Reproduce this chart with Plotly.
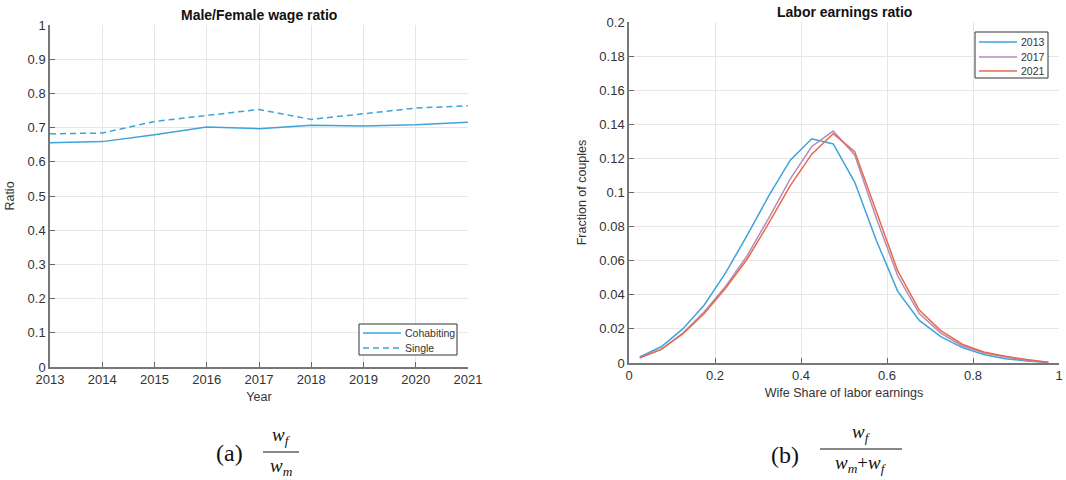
import plotly.graph_objects as go

# Panel (a): male/female wage ratio by year
years = [2013, 2014, 2015, 2016, 2017, 2018, 2019, 2020, 2021]
cohabiting = [0.656, 0.659, 0.679, 0.702, 0.697, 0.707, 0.705, 0.708, 0.716]
single = [0.682, 0.684, 0.718, 0.735, 0.753, 0.724, 0.740, 0.757, 0.764]

# Panel (b): distribution of wife's share of labor earnings
share_bins = [0.025, 0.075, 0.125, 0.175, 0.225, 0.275, 0.325, 0.375, 0.425, 0.475,
              0.525, 0.575, 0.625, 0.675, 0.725, 0.775, 0.825, 0.875, 0.925, 0.975]
frac_2013 = [0.0035, 0.0095, 0.0200, 0.0340, 0.0530, 0.0750, 0.0980, 0.1190, 0.1315, 0.1285,
             0.1060, 0.0720, 0.0420, 0.0250, 0.0155, 0.0090, 0.0050, 0.0025, 0.0012, 0.0003]
frac_2017 = [0.0030, 0.0080, 0.0175, 0.0300, 0.0450, 0.0630, 0.0850, 0.1080, 0.1270, 0.1360,
             0.1220, 0.0850, 0.0510, 0.0290, 0.0175, 0.0100, 0.0060, 0.0035, 0.0015, 0.0005]
frac_2021 = [0.0030, 0.0080, 0.0170, 0.0290, 0.0440, 0.0610, 0.0820, 0.1040, 0.1225, 0.1345,
             0.1240, 0.0890, 0.0540, 0.0310, 0.0190, 0.0110, 0.0065, 0.0040, 0.0020, 0.0005]

BLUE = "#3ea3da"
PURPLE = "#b48cb8"
RED = "#e8694a"
TXT = "#333333"
GRID = "#e6e6e6"
FONT = "Liberation Sans, Arial, sans-serif"
SERIF = "Liberation Serif, DejaVu Serif, serif"
DASH = "6px,4px"
W, H = 1066, 480

fig = go.Figure()

left_series = [("Cohabiting", cohabiting, "solid"), ("Single", single, DASH)]
right_series = [("2013", frac_2013, BLUE), ("2017", frac_2017, PURPLE), ("2021", frac_2021, RED)]

for name, vals, dash in left_series:
    fig.add_trace(go.Scatter(x=years, y=vals, mode="lines", name=name,
                             line=dict(color=BLUE, width=1.5, dash=dash),
                             xaxis="x", yaxis="y", showlegend=False))

for name, vals, col in right_series:
    fig.add_trace(go.Scatter(x=share_bins, y=vals, mode="lines", name=name,
                             line=dict(color=col, width=1.5),
                             xaxis="x2", yaxis="y2", showlegend=False))

axis_common = dict(showgrid=True, gridcolor=GRID, gridwidth=1, zeroline=False,
                   showline=True, linecolor="#777777", linewidth=1.5,
                   ticks="inside", ticklen=5, tickcolor="#666666",
                   tickfont=dict(family=FONT, size=13, color=TXT),
                   title_font=dict(family=FONT, size=12.5, color=TXT), mirror=False,
                   automargin=False)

fig.update_layout(
    width=W, height=H,
    margin=dict(l=0, r=0, t=0, b=0, autoexpand=False),
    paper_bgcolor="white", plot_bgcolor="white",
    showlegend=False,
    xaxis=dict(domain=[50/W, 468/W], range=[2013, 2021], tickmode="array",
               tickvals=years, title=dict(text="Year", standoff=6), anchor="y",
               **axis_common),
    yaxis=dict(domain=[1-367/H, 1-25/H], range=[0, 1], dtick=0.1,
               title=dict(text="Ratio", standoff=10), anchor="x", **axis_common),
    xaxis2=dict(domain=[629/W, 1059/W], range=[0, 1], dtick=0.2,
                title=dict(text="Wife Share of labor earnings", standoff=6), anchor="y2",
                **axis_common),
    yaxis2=dict(domain=[1-363/H, 1-22/H], range=[0, 0.2], dtick=0.02,
                title=dict(text="Fraction of couples", standoff=10), anchor="x2",
                **axis_common),
)


def px(x):
    return x / W


def py(y):
    return 1 - y / H


def note(x, y, text, size, family=FONT, color=TXT, xanchor="center", yanchor="middle"):
    fig.add_annotation(x=px(x), y=py(y), xref="paper", yref="paper", text=text,
                       showarrow=False, xanchor=xanchor, yanchor=yanchor,
                       font=dict(family=family, size=size, color=color))


def hline(x0, x1, y, color, width=1, dash="solid"):
    fig.add_shape(type="line", xref="paper", yref="paper", x0=px(x0), x1=px(x1),
                  y0=py(y), y1=py(y), line=dict(color=color, width=width, dash=dash))


def legend_box(x0, y0, x1, y1, entries, line_x0, line_x1, row_y):
    fig.add_shape(type="rect", xref="paper", yref="paper", x0=px(x0), x1=px(x1),
                  y0=py(y1), y1=py(y0), fillcolor="white",
                  line=dict(color="#333333", width=1), layer="above")
    for (name, color, dash), yy in zip(entries, row_y):
        hline(line_x0, line_x1, yy, color, 1.5, dash)
        note(line_x1 + 2, yy, name, 10.5, xanchor="left")


# Panel titles
note((50 + 468) / 2, 15, "<b>Male/Female wage ratio</b>", 14, color="#111111")
note((629 + 1059) / 2, 12, "<b>Labor earnings ratio</b>", 14, color="#111111")

# Legends
legend_box(359, 324, 457, 355,
           [(n, BLUE, d) for n, _, d in left_series], 363, 401, [333, 348])
legend_box(975, 32, 1048, 78,
           [(n, c, "solid") for n, _, c in right_series], 979, 1017, [42, 57, 71])


# Sub-figure captions with fractions
def caption(label, label_x, y_mid, num, den, frac_x, bar_half, bar_y):
    note(label_x, y_mid, label, 24, family=SERIF, color="#111111")
    note(frac_x, bar_y - 2, num, 19, family=SERIF, color="#111111", yanchor="bottom")
    note(frac_x, bar_y + 1, den, 19, family=SERIF, color="#111111", yanchor="top")
    hline(frac_x - bar_half, frac_x + bar_half, bar_y, "#111111", 1)


caption("(a)", 229, 453, "<i>w</i><sub><i>f</i></sub>", "<i>w</i><sub><i>m</i></sub>",
        281, 18, 452)
caption("(b)", 785, 455, "<i>w</i><sub><i>f</i></sub>",
        "<i>w</i><sub><i>m</i></sub>+<i>w</i><sub><i>f</i></sub>", 861, 41, 449)

fig.write_html("out.html")
